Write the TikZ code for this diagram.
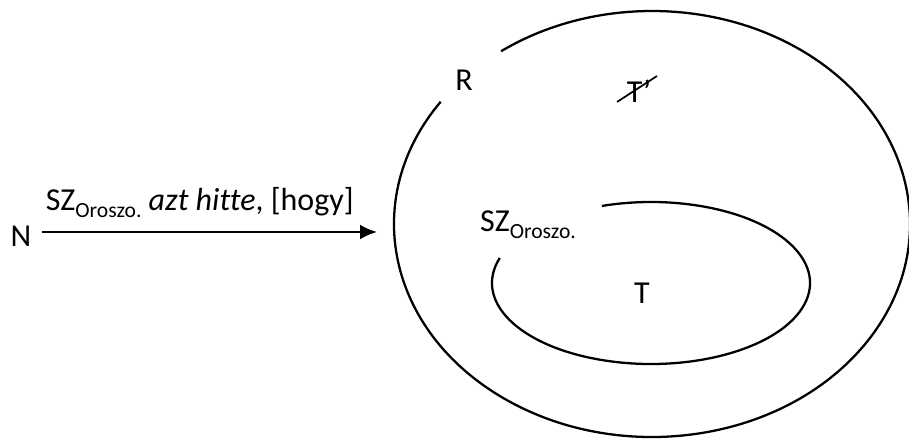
\documentclass[tikz,border=0pt]{standalone}
\usepackage{fontspec}
\setmainfont{Carlito}[Ligatures=CommonOff]
\usetikzlibrary{arrows.meta}
\newcommand{\subtxt}[1]{\raisebox{-0.45ex}{\fontsize{12.3}{14}\selectfont #1}}

\begin{document}
\begin{tikzpicture}[
    x=0.02cm, y=0.02cm, >={Latex[length=0.34cm, width=0.3cm]}, line width=1.3pt,
    every node/.style={font=\fontsize{18.2}{21}\selectfont, inner sep=0pt}
]
\useasboundingbox (0,0) rectangle (909,439);
\coordinate (outer_center) at (652,215);
\coordinate (inner_center) at (651,156);
\node (n_node) at (21,203) {N};
\coordinate (arrow_end) at (377,207);
\node (r_label) at (464,359) {R};
\node (t_prime) at (639,348) {T’};
\node (sz_inner) [anchor=base west] at (479,207) {SZ\subtxt{Oroszo.}};
\node (t_label) at (642,146) {T};
\draw[->] (n_node.east |- arrow_end) ++(10,0) -- node[pos=0.47, above=0.26cm] {SZ\subtxt{Oroszo.} \textit{azt hitte}, [hogy]} (arrow_end);
\draw (outer_center) ++(145:258 and 213) arc[start angle=145, end angle=485.8, x radius=258, y radius=213];
\draw (inner_center) ++(162:159 and 81) arc[start angle=162, end angle=468, x radius=159, y radius=81];
\draw[line width=1pt] (617,337) -- (657,363);
\end{tikzpicture}
\end{document}
